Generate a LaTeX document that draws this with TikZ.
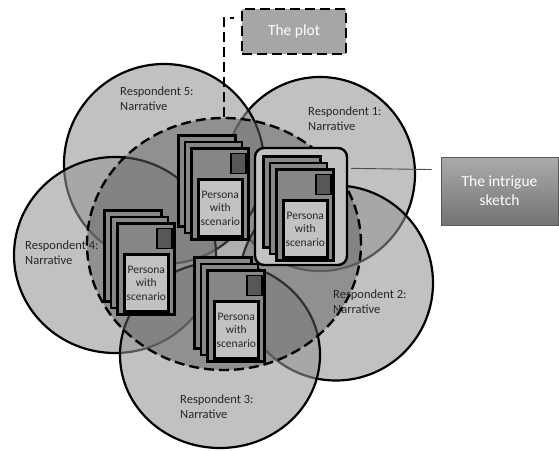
\documentclass[tikz,border=0pt]{standalone}
\usepackage{fontspec}
\setmainfont{Carlito}
\usetikzlibrary{shapes.geometric, positioning, calc}
\tikzset{
  resp/.style={ellipse, draw=black, line width=2.2pt, fill=black!42,
               fill opacity=0.58, inner sep=0pt},
  plotarea/.style={ellipse, draw=black, line width=2.4pt,
                   dash pattern=on 10pt off 5pt, fill=black!62,
                   fill opacity=0.5, inner sep=0pt},
  lbl/.style={align=left, inner sep=0pt, text=black!85,
              font=\fontsize{12.5}{15}\selectfont},
  sheet/.style={rectangle, draw=black, line width=2.6pt, fill=black!47,
                minimum width=57pt, minimum height=91pt, inner sep=0pt},
  tag/.style={rectangle, draw=black, line width=1.8pt, fill=black!66,
              minimum width=15pt, minimum height=20pt, inner sep=0pt},
  pcard/.style={rectangle, draw=black, line width=2.4pt, fill=black!24,
                minimum width=44pt, minimum height=57pt, inner sep=0pt,
                align=center, text=black!85,
                font=\fontsize{11.5}{13.5}\selectfont},
  callout/.style={rectangle, text=white, align=center, inner sep=0pt,
                  font=\fontsize{15.5}{19}\selectfont},
  link/.style={draw=black!70, line width=0.9pt},
}
\begin{document}
\begin{tikzpicture}[x=1pt, y=-1pt]
  \useasboundingbox (0,0) rectangle (559,450);

  % respondents' narratives
  \node[resp, minimum width=190pt, minimum height=194pt] (r1) at (320,174) {};
  \node[resp, minimum width=200pt, minimum height=200pt] (r5) at (164,164) {};
  \node[resp, minimum width=194pt, minimum height=195pt] (r2) at (336,283) {};
  \node[resp, minimum width=202pt, minimum height=196pt] (r4) at (115,255) {};
  \node[resp, minimum width=200pt, minimum height=186pt] (r3) at (220,355) {};

  % the plot
  \node[plotarea, minimum width=274pt, minimum height=252pt] (area) at (224,244) {};
  \coordinate (plotend) at (234,18);
  \draw[line width=2.4pt, dash pattern=on 10pt off 5pt] (area.north) |- (plotend);

  \node[lbl, anchor=north west] (t5) at (120,87) {Respondent 5:\\Narrative};
  \node[lbl, anchor=north west] (t1) at (308,107) {Respondent 1:\\Narrative};
  \node[lbl, anchor=north west] (t4) at (25,241) {Respondent 4:\\Narrative};
  \node[lbl, anchor=north west] (t2) at (333,290) {Respondent 2:\\Narrative};
  \node[lbl, anchor=north west] (t3) at (180,395) {Respondent 3:\\Narrative};

  % intrigue frame
  \node[rectangle, rounded corners=9pt, draw=black, line width=2.4pt,
        fill=black!24, minimum width=92pt, minimum height=117pt]
        (frame) at (301,206.5) {};

  % persona stacks
  \foreach \n/\x/\y in {p1/190/147, p2/275/168, p3/116/222, p4/206/269}{
    \node[sheet, anchor=north west] at (\x-13,\y-13) {};
    \node[sheet, anchor=north west] at (\x-6.5,\y-6.5) {};
    \node[sheet, anchor=north west] (\n) at (\x,\y) {};
    \node[tag, anchor=north east] at ([xshift=-3pt,yshift=-5.5pt]\n.north east) {};
    \node[pcard, anchor=south] at ([xshift=0.5pt,yshift=3pt]\n.south) {Persona\\with\\scenario};
  }

  % callouts
  \node[callout, draw=black, line width=2.4pt, dash pattern=on 10pt off 5pt,
        fill=black!35, minimum width=104pt, minimum height=45pt]
        (plot) at (294,31.5) {The plot};
  \node[callout, draw=black!65, line width=0.8pt, top color=black!33,
        bottom color=black!55, minimum width=117pt, minimum height=68pt]
        (sketch) at (499.5,191) {The intrigue\\sketch};
  \draw[link, shorten <=3pt, shorten >=9pt]
    ($(frame.north east)!0.18!(frame.south east)$) --
    ($(sketch.north west)!0.19!(sketch.south west)$);
\end{tikzpicture}
\end{document}
